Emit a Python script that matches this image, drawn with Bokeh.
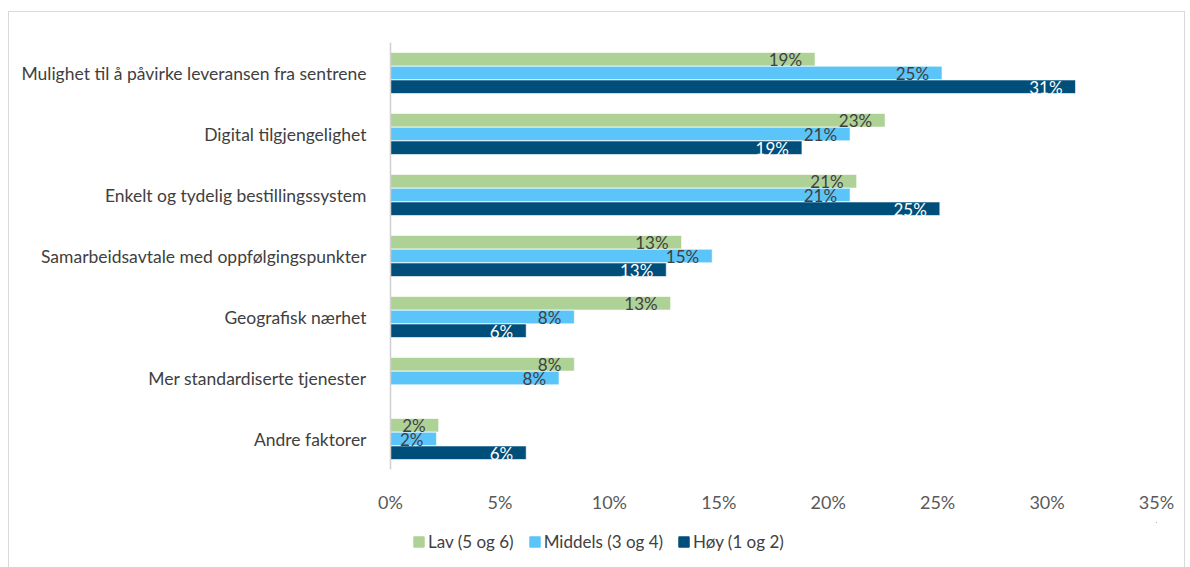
from bokeh.plotting import figure
from bokeh.layouts import column
from bokeh.models import (ColumnDataSource, FactorRange, Legend, LegendItem,
                          FixedTicker, PrintfTickFormatter, LabelSet)
from bokeh.core.properties import value
from bokeh.transform import dodge
from bokeh.embed import file_html
from bokeh.resources import INLINE

categories = [
    "Mulighet til å påvirke leveransen fra sentrene",
    "Digital tilgjengelighet",
    "Enkelt og tydelig bestillingssystem",
    "Samarbeidsavtale med oppfølgingspunkter",
    "Geografisk nærhet",
    "Mer standardiserte tjenester",
    "Andre faktorer",
]
series = ["Lav (5 og 6)", "Middels (3 og 4)", "Høy (1 og 2)"]
lav = [19.4, 22.6, 21.3, 13.3, 12.8, 8.4, 2.2]
middels = [25.2, 21.0, 21.0, 14.7, 8.4, 7.7, 2.1]
hoy = [31.3, 18.8, 25.1, 12.6, 6.2, 0.0, 6.2]
x_ticks = [0, 5, 10, 15, 20, 25, 30, 35]

colors = ["#AED296", "#5BC5F9", "#004F7A"]
label_colors = ["#404040", "#404040", "#FFFFFF"]
offsets = [0.225, 0.0, -0.225]
FONT = "Lato"

p = figure(
    width=1175, height=510,
    y_range=FactorRange(factors=list(reversed(categories)), range_padding=0),
    x_range=(0, 35),
    output_backend="svg", toolbar_location=None,
    min_border_left=381, min_border_right=28, min_border_top=30, min_border_bottom=53,
)
p.outline_line_color = None
p.xgrid.visible = False
p.ygrid.visible = False

for vals, col, lcol, off in zip([lav, middels, hoy], colors, label_colors, offsets):
    src = ColumnDataSource(dict(
        cat=categories, val=vals,
        lbl=[f"{round(v)}%" if v > 0 else "" for v in vals],
    ))
    p.hbar(y=dodge("cat", off, range=p.y_range), right="val", left=0, height=0.222,
           source=src, fill_color=col, line_color="white", line_width=0.6)
    ls = LabelSet(x="val", y=dodge("cat", off - 0.01, range=p.y_range), text="lbl", source=src,
                  x_offset=-13, text_align="right", text_baseline="middle",
                  text_font=value(FONT), text_font_size="17px", text_color=lcol)
    p.add_layout(ls)

p.xaxis.ticker = FixedTicker(ticks=x_ticks)
p.xaxis.formatter = PrintfTickFormatter(format="%d%%")
p.xaxis.axis_line_color = None
p.xaxis.major_tick_line_color = None
p.xaxis.minor_tick_line_color = None
p.xaxis.major_label_text_font = FONT
p.xaxis.major_label_text_font_size = "18px"
p.xaxis.major_label_text_color = "#595959"
p.xaxis.major_label_standoff = 15

p.yaxis.axis_line_color = "#d0d0d0"
p.yaxis.axis_line_width = 1.5
p.yaxis.major_tick_line_color = None
p.yaxis.minor_tick_line_color = None
p.yaxis.major_label_text_font = FONT
p.yaxis.major_label_text_font_size = "17.5px"
p.yaxis.major_label_text_color = "#404040"
p.yaxis.major_label_standoff = 18

# legend strip
leg = figure(width=1175, height=45, x_range=(0, 1), y_range=(0, 1),
             x_axis_type=None, y_axis_type=None, output_backend="svg", toolbar_location=None,
             min_border_left=0, min_border_right=0, min_border_top=0, min_border_bottom=0)
leg.outline_line_color = None
leg.xgrid.visible = False
leg.ygrid.visible = False
items = []
for name, col in zip(series, colors):
    # swatch renderer kept far outside the visible range; only its legend entry shows
    r = leg.hbar(y=[100], left=[100], right=[101], height=1, fill_color=col, line_color=col)
    items.append(LegendItem(label=name, renderers=[r]))
legend = Legend(items=items, orientation="horizontal", location=(22, 15),
                glyph_width=13, glyph_height=13, label_standoff=3, spacing=14,
                padding=0, margin=0, border_line_color=None, background_fill_alpha=0,
                label_text_font=FONT, label_text_font_size="17px", label_text_color="#404040",
                label_height=18)
leg.add_layout(legend, "center")

layout = column(p, leg, spacing=0)
layout.margin = (11, 0, 0, 8)
layout.styles = {"border": "1px solid #d9d9d9"}

open("out.html", "w").write(file_html(layout, INLINE))
